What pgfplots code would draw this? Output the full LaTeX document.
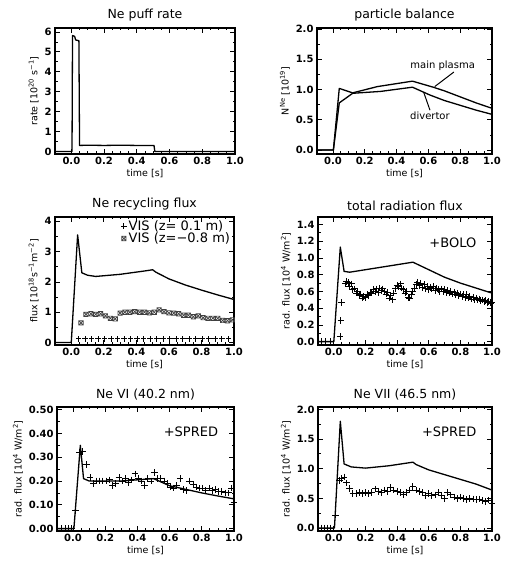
\documentclass[border=0pt]{standalone}
\usepackage{fontspec}
\setmainfont{DejaVu Sans}
\usepackage{pgfplots}
\pgfplotsset{compat=1.18}

% square with a cross in it, for the z=-0.8 m VIS channel
\pgfdeclareplotmark{sqx}{%
  \pgfpathrectangle{\pgfpoint{-\pgfplotmarksize}{-\pgfplotmarksize}}{\pgfpoint{2\pgfplotmarksize}{2\pgfplotmarksize}}%
  \pgfpathmoveto{\pgfpoint{-\pgfplotmarksize}{-\pgfplotmarksize}}\pgfpathlineto{\pgfpoint{\pgfplotmarksize}{\pgfplotmarksize}}%
  \pgfpathmoveto{\pgfpoint{-\pgfplotmarksize}{\pgfplotmarksize}}\pgfpathlineto{\pgfpoint{\pgfplotmarksize}{-\pgfplotmarksize}}%
  \pgfusepathqstroke}

\pgfplotsset{
  idl/.style={
    scale only axis, anchor=south west,
    xmin=-0.1, xmax=1.0, xtick={0,0.2,...,1.0},
    minor x tick num=3, minor y tick num=1,
    tick align=inside, tick pos=both,
    major tick length=5pt, minor tick length=2.5pt,
    every tick/.style={black, line width=0.8pt},
    axis line style={line width=1.3pt},
    scaled ticks=false,
    /pgf/number format/assume math mode=true,
    tick label style={font=\bfseries\fontsize{10}{12}\selectfont},
    x tick label style={/pgf/number format/fixed,/pgf/number format/fixed zerofill,/pgf/number format/precision=1},
    label style={font=\fontsize{9.5}{10}\selectfont},
    xlabel={time [s]},
    xlabel style={yshift=3pt},
    ylabel style={yshift=-1pt},
    title style={font=\fontsize{12.5}{14}\selectfont, yshift=-3pt},
  },
  dline/.style={black, line width=1.3pt, no markers, line join=round},
  pts/.style={black, only marks, mark=+, mark size=3.3pt, line width=0.9pt},
}

\begin{document}
\begin{tikzpicture}
\useasboundingbox (0,0) rectangle (504pt,564pt);

% ---------------- Ne puff rate ----------------
\begin{axis}[idl, at={(55pt,410pt)}, width=180pt, height=126pt,
  title={Ne puff rate}, ymin=-0.13, ymax=6.2, ytick={0,1,...,6},
  ylabel={rate [10\textsuperscript{20} s\textsuperscript{−1}]}]
\addplot[dline] coordinates {(-0.1,0) (0.004,0) (0.007,5.82) (0.02,5.78) (0.026,5.6) (0.046,5.56)
  (0.05,0.3) (0.1,0.31) (0.2,0.3) (0.3,0.31) (0.4,0.3) (0.505,0.3) (0.51,0) (1.0,0)};
\end{axis}

% ---------------- particle balance ----------------
\begin{axis}[idl, at={(317pt,410pt)}, width=175pt, height=126pt,
  title={particle balance}, ymin=-0.066, ymax=2.02, ytick={0,0.5,...,2.0},
  y tick label style={/pgf/number format/fixed,/pgf/number format/fixed zerofill,/pgf/number format/precision=1},
  ylabel={N\textsuperscript{Ne} [10\textsuperscript{19}]}]
% main plasma
\addplot[dline] coordinates {(-0.1,0) (0.003,0) (0.04,0.78) (0.13,0.95) (0.28,1.05) (0.5,1.14)
  (0.63,1.04) (0.7,0.98) (0.8,0.88) (0.9,0.78) (1.0,0.69)};
% divertor
\addplot[dline] coordinates {(-0.1,0) (0.003,0) (0.04,1.02) (0.13,0.94) (0.3,0.97) (0.5,1.04)
  (0.61,0.91) (0.7,0.82) (0.8,0.74) (0.9,0.66) (1.0,0.59)};
\node[font=\fontsize{10}{11}\selectfont] at (axis cs:0.69,1.39) {main plasma};
\draw[line width=1pt] (axis cs:0.76,1.29) -- (axis cs:0.64,1.05);
\node[font=\fontsize{10}{11}\selectfont] at (axis cs:0.61,0.56) {divertor};
\draw[line width=1pt] (axis cs:0.61,0.66) -- (axis cs:0.57,0.96);
\end{axis}

% ---------------- Ne recycling flux ----------------
\begin{axis}[idl, at={(55pt,219pt)}, width=179pt, height=128pt,
  title={Ne recycling flux}, ymin=-0.08, ymax=4.14, ytick={0,1,...,4},
  ylabel={flux [10\textsuperscript{18}s\textsuperscript{−1}m\textsuperscript{−2}]},
  legend style={draw=none, fill=none, at={(rel axis cs:0.99,0.99)}, anchor=north east,
    font=\fontsize{13}{14}\selectfont, inner sep=0pt, row sep=-3pt},
  legend cell align=left]
\addplot[dline, forget plot] coordinates {(-0.1,0) (0.0,0) (0.039,3.55) (0.065,2.3) (0.1,2.22) (0.15,2.18)
  (0.3,2.25) (0.45,2.36) (0.5,2.4) (0.52,2.32) (0.6,2.1) (0.7,1.9) (0.8,1.73) (0.9,1.57) (1.0,1.42)};
\addplot[pts, mark size=2.8pt] coordinates {(0.045,0.12) (0.085,0.12) (0.125,0.12) (0.165,0.12) (0.205,0.12)
  (0.245,0.12) (0.285,0.12) (0.325,0.12) (0.365,0.12) (0.405,0.12) (0.445,0.12) (0.485,0.12)
  (0.525,0.12) (0.565,0.12) (0.605,0.12) (0.645,0.12) (0.685,0.12) (0.725,0.12) (0.765,0.12)
  (0.805,0.12) (0.845,0.12) (0.885,0.12) (0.925,0.12) (0.965,0.12)};
\addlegendentry{VIS (z= 0.1 m)}
\addplot[black!75, only marks, mark=sqx, mark size=2.2pt, line width=0.7pt] coordinates {
  (0.06,0.65) (0.09,0.93) (0.12,0.95) (0.15,0.93) (0.18,0.95) (0.21,0.88) (0.24,0.8) (0.27,0.78)
  (0.3,0.97) (0.33,1.0) (0.36,1.0) (0.39,1.02) (0.42,1.0) (0.45,1.0) (0.48,0.98) (0.51,1.0)
  (0.54,1.08) (0.57,1.02) (0.6,0.98) (0.63,0.97) (0.66,0.95) (0.69,0.9) (0.72,0.9) (0.75,0.85)
  (0.78,0.88) (0.81,0.82) (0.84,0.8) (0.87,0.8) (0.9,0.8) (0.93,0.73) (0.96,0.72) (0.99,0.75)};
\addlegendentry{VIS (z=−0.8 m)}
\end{axis}

% ---------------- total radiation flux ----------------
\begin{axis}[idl, at={(318pt,219pt)}, width=174pt, height=128pt,
  title={total radiation flux}, ymin=-0.04, ymax=1.49, ytick={0,0.2,...,1.4},
  y tick label style={/pgf/number format/fixed,/pgf/number format/fixed zerofill,/pgf/number format/precision=1},
  ylabel={rad. flux [10\textsuperscript{4} W/m\textsuperscript{2}]}]
\addplot[dline] coordinates {(-0.1,0) (0.0,0) (0.041,1.13) (0.065,0.84) (0.1,0.83) (0.3,0.89) (0.5,0.95)
  (0.6,0.86) (0.7,0.77) (0.8,0.70) (0.9,0.64) (1.0,0.58)};
\addplot[pts] coordinates {(-0.08,0) (-0.05,0) (-0.02,0)
  (0.039,0.06) (0.045,0.25) (0.05,0.47) (0.075,0.69) (0.08,0.72)
  (0.09,0.71) (0.10,0.66) (0.11,0.69) (0.12,0.62) (0.13,0.63) (0.14,0.58) (0.15,0.60) (0.16,0.55)
  (0.17,0.57) (0.18,0.52) (0.19,0.54) (0.20,0.53) (0.21,0.56) (0.22,0.55) (0.23,0.59) (0.24,0.58)
  (0.25,0.62) (0.26,0.60) (0.27,0.63) (0.28,0.59) (0.29,0.64) (0.30,0.61) (0.31,0.63) (0.32,0.60)
  (0.33,0.57) (0.34,0.59) (0.35,0.52) (0.36,0.55) (0.37,0.50) (0.38,0.58) (0.39,0.63) (0.40,0.67)
  (0.41,0.66) (0.42,0.69) (0.43,0.64) (0.44,0.62) (0.45,0.58) (0.46,0.60) (0.47,0.53) (0.48,0.52)
  (0.49,0.56) (0.50,0.60) (0.51,0.64) (0.52,0.68) (0.53,0.71) (0.54,0.67) (0.55,0.70) (0.56,0.65)
  (0.57,0.68) (0.58,0.63) (0.59,0.66) (0.60,0.62) (0.61,0.65) (0.62,0.63) (0.63,0.66) (0.64,0.61)
  (0.65,0.64) (0.66,0.62) (0.67,0.60) (0.68,0.63) (0.69,0.60) (0.70,0.62) (0.71,0.59) (0.72,0.61)
  (0.73,0.58) (0.74,0.60) (0.75,0.57) (0.76,0.59) (0.77,0.56) (0.78,0.58) (0.79,0.55) (0.80,0.57)
  (0.81,0.54) (0.82,0.56) (0.83,0.53) (0.84,0.56) (0.85,0.52) (0.86,0.54) (0.87,0.51) (0.88,0.53)
  (0.89,0.50) (0.90,0.52) (0.91,0.50) (0.92,0.51) (0.93,0.49) (0.94,0.50) (0.95,0.48) (0.96,0.49)
  (0.97,0.47) (0.98,0.48) (0.99,0.46) (1.00,0.47)};
\node[font=\fontsize{13}{14}\selectfont, anchor=east] at (rel axis cs:0.93,0.8) {+BOLO};
\end{axis}

% ---------------- Ne VI ----------------
\begin{axis}[idl, at={(57pt,33pt)}, width=177pt, height=124pt,
  title={Ne VI (40.2 nm)}, ymin=-0.01, ymax=0.511, ytick={0,0.1,...,0.5},
  y tick label style={/pgf/number format/fixed,/pgf/number format/fixed zerofill,/pgf/number format/precision=2},
  ylabel={rad. flux [10\textsuperscript{4} W/m\textsuperscript{2}]}]
\addplot[dline] coordinates {(-0.1,0) (0.005,0) (0.045,0.35) (0.065,0.21) (0.1,0.2) (0.3,0.2) (0.5,0.21)
  (0.6,0.18) (0.7,0.165) (0.8,0.15) (0.9,0.137) (1.0,0.125)};
\addplot[pts] coordinates {(-0.07,0) (-0.05,0) (-0.03,0) (-0.01,0)
  (0.014,0.076) (0.04,0.32) (0.06,0.325) (0.085,0.27) (0.105,0.215)
  (0.125,0.19) (0.145,0.2) (0.165,0.2) (0.185,0.2) (0.205,0.2) (0.225,0.205) (0.245,0.18) (0.265,0.19)
  (0.285,0.215) (0.305,0.2) (0.325,0.21) (0.345,0.195) (0.365,0.205) (0.385,0.23) (0.405,0.21)
  (0.425,0.2) (0.445,0.18) (0.465,0.21) (0.485,0.2) (0.505,0.235) (0.525,0.21) (0.545,0.21)
  (0.565,0.2) (0.585,0.19) (0.605,0.175) (0.625,0.17) (0.645,0.18) (0.665,0.21) (0.685,0.165)
  (0.705,0.16) (0.725,0.2) (0.745,0.185) (0.765,0.175) (0.785,0.17) (0.805,0.17) (0.825,0.16)
  (0.845,0.17) (0.865,0.16) (0.885,0.165) (0.905,0.155) (0.925,0.155) (0.945,0.15) (0.965,0.15)
  (0.985,0.17) (1.0,0.11)};
\node[font=\fontsize{13}{14}\selectfont, anchor=east] at (rel axis cs:0.93,0.8) {+SPRED};
\end{axis}

% ---------------- Ne VII ----------------
\begin{axis}[idl, at={(318pt,33pt)}, width=174pt, height=124pt,
  title={Ne VII (46.5 nm)}, ymin=-0.05, ymax=2.04, ytick={0,0.5,...,2.0},
  y tick label style={/pgf/number format/fixed,/pgf/number format/fixed zerofill,/pgf/number format/precision=1},
  ylabel={rad. flux [10\textsuperscript{4} W/m\textsuperscript{2}]}]
\addplot[dline] coordinates {(-0.1,0) (0.004,0) (0.041,1.8) (0.065,1.08) (0.11,1.03) (0.2,1.01) (0.35,1.05)
  (0.5,1.11) (0.52,1.07) (0.6,0.98) (0.7,0.9) (0.8,0.82) (0.9,0.74) (1.0,0.64)};
\addplot[pts] coordinates {(-0.08,0) (-0.06,0) (-0.04,0) (-0.02,0)
  (0.012,0.22) (0.035,0.8) (0.05,0.83) (0.065,0.86) (0.08,0.76) (0.1,0.67) (0.12,0.58) (0.14,0.58)
  (0.16,0.6) (0.18,0.58) (0.2,0.6) (0.22,0.58) (0.24,0.6) (0.26,0.66) (0.28,0.62) (0.3,0.6)
  (0.32,0.64) (0.34,0.62) (0.36,0.68) (0.38,0.64) (0.4,0.62) (0.42,0.6) (0.44,0.57) (0.46,0.6)
  (0.48,0.64) (0.5,0.7) (0.52,0.64) (0.54,0.62) (0.56,0.6) (0.58,0.55) (0.6,0.58) (0.62,0.55)
  (0.64,0.56) (0.66,0.6) (0.68,0.55) (0.7,0.5) (0.72,0.6) (0.74,0.56) (0.76,0.52) (0.78,0.5)
  (0.8,0.52) (0.82,0.5) (0.84,0.48) (0.86,0.5) (0.88,0.49) (0.9,0.48) (0.92,0.49) (0.94,0.46)
  (0.96,0.45) (0.98,0.47) (1.0,0.42)};
\node[font=\fontsize{13}{14}\selectfont, anchor=east] at (rel axis cs:0.93,0.8) {+SPRED};
\end{axis}
\end{tikzpicture}
\end{document}
